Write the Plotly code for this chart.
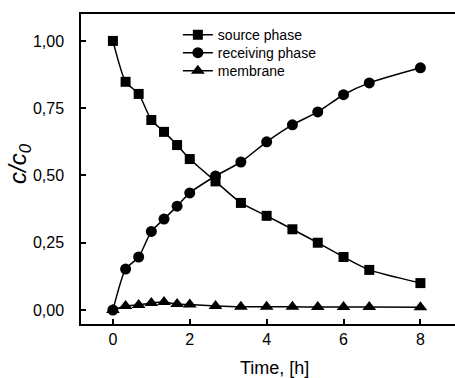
import plotly.graph_objects as go

time_h = [0, 0.33, 0.67, 1.0, 1.33, 1.67, 2.0, 2.67, 3.33, 4.0, 4.67, 5.33, 6.0, 6.67, 8.0]
source_phase = [1.00, 0.848, 0.803, 0.706, 0.662, 0.613, 0.561, 0.478, 0.398, 0.350, 0.300, 0.250, 0.197, 0.149, 0.100]
receiving_phase = [0.0, 0.152, 0.197, 0.292, 0.338, 0.386, 0.435, 0.498, 0.550, 0.625, 0.688, 0.736, 0.800, 0.844, 0.900]
membrane = [0.0, 0.015, 0.019, 0.026, 0.030, 0.022, 0.020, 0.015, 0.012, 0.012, 0.012, 0.011, 0.011, 0.011, 0.010]

x_tickvals = [0, 2, 4, 6, 8]
y_tickvals = [0.0, 0.25, 0.5, 0.75, 1.0]
y_ticktext = ["0,00", "0,25", "0,50", "0,75", "1,00"]

FONT = "Liberation Sans, Arial, Helvetica, sans-serif"

fig = go.Figure()
series = [
    ("source phase", source_phase, "square", 10, "legend"),
    ("receiving phase", receiving_phase, "circle", 11, "legend2"),
    ("membrane", membrane, "triangle-up", 12, "legend3"),
]
for name, vals, sym, size, lg in series:
    fig.add_trace(go.Scatter(
        x=time_h, y=vals, name=name, mode="lines+markers", legend=lg,
        line=dict(color="black", width=1.5, shape="spline", smoothing=0.6),
        marker=dict(symbol=sym, size=size, color="black", line=dict(width=0)),
    ))

legend_common = dict(xanchor="left", yanchor="middle", x=0.259,
                     bgcolor="rgba(0,0,0,0)", font=dict(size=14, family=FONT, color="black"))
fig.update_layout(
    width=455, height=378,
    margin=dict(l=81, r=0, t=14, b=54, autoexpand=False),
    paper_bgcolor="white", plot_bgcolor="white",
    font=dict(family=FONT, size=16, color="black"),
    showlegend=True,
    legend=dict(y=0.932, **legend_common),
    legend2=dict(y=0.874, **legend_common),
    legend3=dict(y=0.816, **legend_common),
    xaxis=dict(
        range=[-0.83, 8.9], tickvals=x_tickvals, ticktext=[str(v) for v in x_tickvals],
        ticks="inside", ticklen=5, tickwidth=1.5, tickcolor="black",
        showline=True, linecolor="black", linewidth=1.5, mirror=True,
        showgrid=False, zeroline=False, automargin=False,
    ),
    yaxis=dict(
        range=[-0.052, 1.10], tickvals=y_tickvals, ticktext=y_ticktext,
        ticks="inside", ticklen=5, tickwidth=1.5, tickcolor="black",
        showline=True, linecolor="black", linewidth=1.5, mirror=False,
        showgrid=False, zeroline=False, ticklabelstandoff=12, automargin=False,
    ),
    annotations=[
        dict(text="Time, [h]", xref="paper", yref="paper",
             x=(274 - 81) / 374, y=(324 - 368) / 310, xanchor="center", yanchor="middle",
             showarrow=False, font=dict(size=18)),
        dict(text="<i>c/c<sub>0</sub></i>", xref="paper", yref="paper",
             x=(20 - 81) / 374, y=(324 - 163) / 310, xanchor="center", yanchor="middle",
             textangle=-90, showarrow=False, font=dict(size=24)),
    ],
)

fig.write_html(
    "out.html",
    config={"displayModeBar": False},
    post_script="document.body.style.margin='0';document.body.style.overflow='hidden';",
)
